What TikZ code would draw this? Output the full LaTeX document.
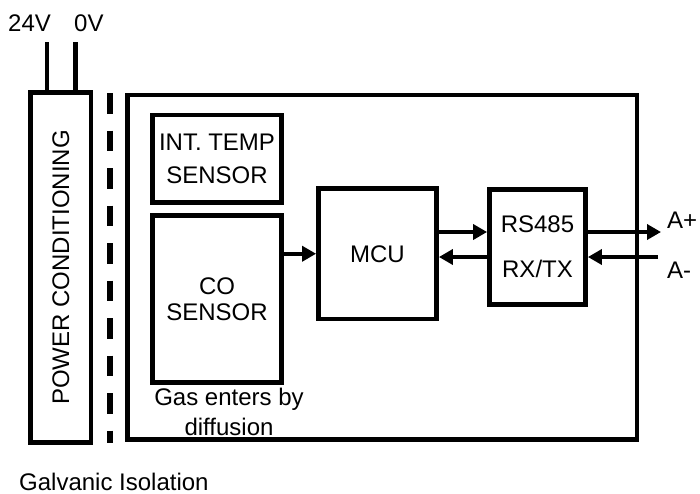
\documentclass[tikz,border=0pt]{standalone}
\usepackage{fontspec}
\setmainfont{Liberation Sans}
\usetikzlibrary{arrows.meta}
\begin{document}
\begin{tikzpicture}[x=1pt,y=-1pt,
  box/.style={draw, line width=4.8pt, rectangle, inner sep=0pt, align=center, font=\fontsize{24}{29}\selectfont},
  lbl/.style={inner sep=0pt, align=center, font=\fontsize{24}{29}\selectfont},
  arr/.style={line width=4.5pt, -{Triangle[length=14pt,width=15pt]}},
  wire/.style={line width=4.5pt},
  iso/.style={line width=5.5pt, dash pattern=on 20.5pt off 17pt}]
\useasboundingbox (0,0) rectangle (700,493);

% main enclosure
\node[box, minimum width=509.5pt, minimum height=344.5pt] (main) at (382.25,267.25) {};

% power conditioning
\node[box, rotate=90, minimum width=350pt, minimum height=60.5pt] (pc) at (60.75,267.5) {POWER CONDITIONING};

% inner blocks
\node[box, minimum width=129pt, minimum height=87.5pt, font=\fontsize{24}{33}\selectfont] (temp) at (217,158.75) {INT. TEMP\\SENSOR};
\node[box, minimum width=129pt, minimum height=167pt, font=\fontsize{24}{25.5}\selectfont] (co) at (217,299) {CO\\SENSOR};
\node[box, minimum width=118pt, minimum height=130.5pt] (mcu) at (377.5,253.75) {MCU};
\node[box, minimum width=96pt, minimum height=115pt, font=\fontsize{24}{45}\selectfont] (rs) at (537.5,247) {RS485\\RX/TX};

% supply wires
\coordinate (v24) at (47,42);
\coordinate (v0) at (75.5,42);
\draw[wire] (v24) -- (v24 |- pc.east);
\draw[wire] (v0) -- (v0 |- pc.east);

% galvanic isolation barrier
\coordinate (isoT) at (110,93);
\coordinate (isoB) at (110,443);
\draw[iso] (isoT) -- (isoB);

% signal arrows
\draw[arr] (co.east |- mcu.west) -- (mcu.west);
\draw[arr] ([yshift=21.75pt]mcu.east) -- ([yshift=15pt]rs.west);
\draw[arr] ([yshift=-10pt]rs.west) -- ([yshift=-3.25pt]mcu.east);
\coordinate (aplus) at (661,232);
\coordinate (aminus) at (658,257);
\draw[arr] ([yshift=15pt]rs.east) -- (aplus);
\draw[arr] (aminus) -- ([yshift=-10pt]rs.east);

% labels
\node[lbl, anchor=base west] (t24) at (8,31.6) {24V};
\node[lbl, anchor=base west] (t0) at (74,31.6) {0V};
\node[lbl, anchor=base west] (lap) at (667,228) {A+};
\node[lbl, anchor=base west] (lam) at (667,278) {A-};
\node[lbl, font=\fontsize{24}{30}\selectfont] (gas) at (229,411.5) {Gas enters by\\diffusion};
\node[lbl, anchor=base west] (galv) at (19,490) {Galvanic Isolation};
\end{tikzpicture}
\end{document}
